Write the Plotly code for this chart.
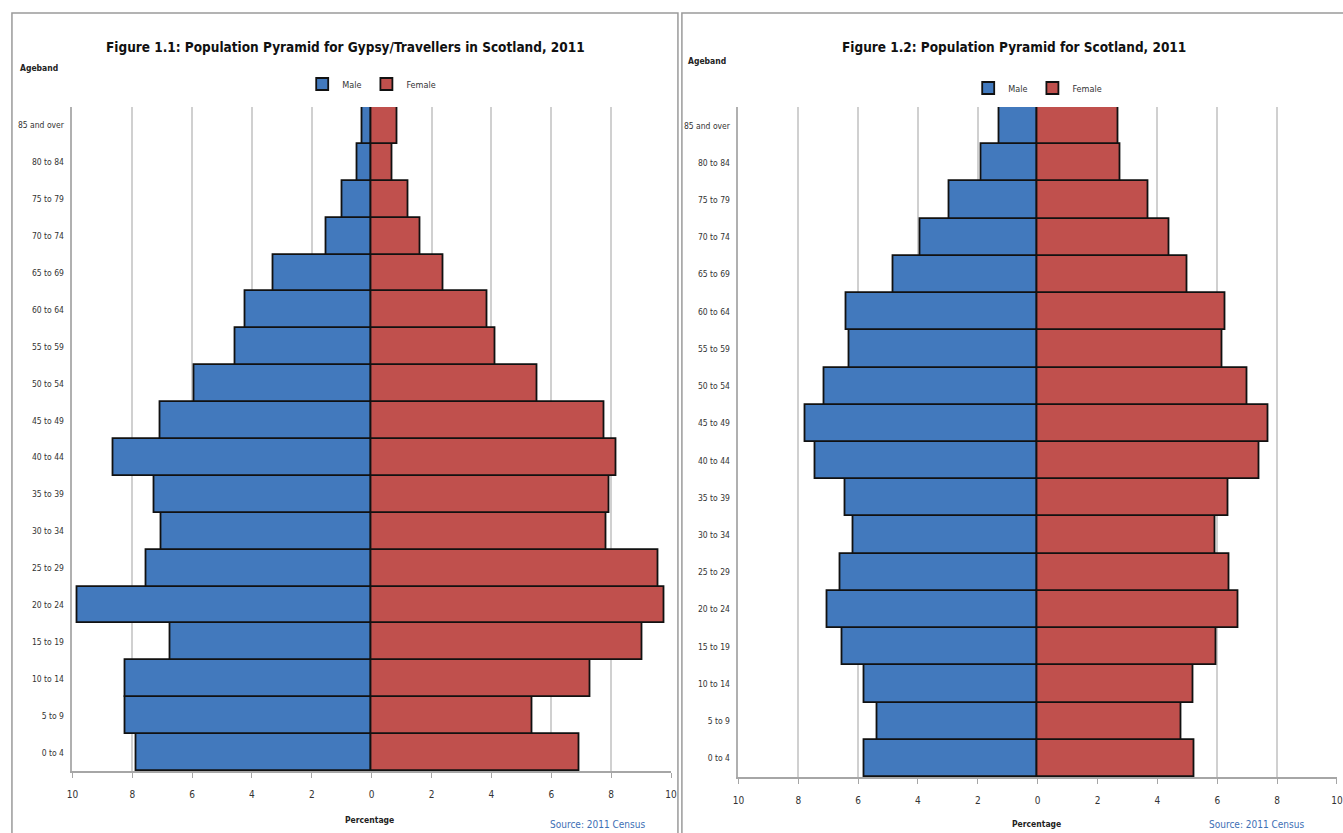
import plotly.graph_objects as go

W, H = 1343, 833

agebands = ["0 to 4", "5 to 9", "10 to 14", "15 to 19", "20 to 24", "25 to 29",
            "30 to 34", "35 to 39", "40 to 44", "45 to 49", "50 to 54", "55 to 59",
            "60 to 64", "65 to 69", "70 to 74", "75 to 79", "80 to 84", "85 and over"]

# Figure 1.1: Gypsy/Travellers in Scotland (percent)
gt_male = [7.87, 8.24, 8.24, 6.73, 9.83, 7.53, 7.01, 7.26, 8.62, 7.05,
           5.94, 4.54, 4.21, 3.28, 1.51, 0.99, 0.48, 0.32]
gt_female = [6.94, 5.36, 7.31, 9.06, 9.78, 9.58, 7.84, 7.94, 8.16, 7.76,
             5.54, 4.13, 3.86, 2.39, 1.63, 1.23, 0.69, 0.86]

# Figure 1.2: Scotland (percent)
sc_male = [5.79, 5.35, 5.79, 6.53, 7.03, 6.60, 6.16, 6.44, 7.42, 7.75,
           7.14, 6.29, 6.38, 4.82, 3.91, 2.96, 1.87, 1.27]
sc_female = [5.25, 4.81, 5.19, 5.96, 6.69, 6.42, 5.95, 6.36, 7.40, 7.70,
             7.01, 6.17, 6.27, 4.99, 4.39, 3.70, 2.77, 2.69]

tick_vals = [-10, -8, -6, -4, -2, 0, 2, 4, 6, 8, 10]
tick_text = ["10", "8", "6", "4", "2", "0", "2", "4", "6", "8", "10"]

MALE_C = "#4279bd"
FEMALE_C = "#c0504d"
FONT = "Liberation Sans Narrow, DejaVu Sans Condensed, Arial Narrow, sans-serif"


def fx(px):
    return px / W


def fy(py):
    return 1 - py / H


fig = go.Figure()

line = dict(color="#111111", width=1.8)
fig.add_trace(go.Bar(y=agebands, x=[-v for v in gt_male], orientation="h", name="Male",
                     marker=dict(color=MALE_C, line=line), xaxis="x", yaxis="y",
                     legend="legend"))
fig.add_trace(go.Bar(y=agebands, x=gt_female, orientation="h", name="Female",
                     marker=dict(color=FEMALE_C, line=line), xaxis="x", yaxis="y",
                     legend="legend"))
fig.add_trace(go.Bar(y=agebands, x=[-v for v in sc_male], orientation="h", name="Male",
                     marker=dict(color=MALE_C, line=line), xaxis="x2", yaxis="y2",
                     legend="legend2"))
fig.add_trace(go.Bar(y=agebands, x=sc_female, orientation="h", name="Female",
                     marker=dict(color=FEMALE_C, line=line), xaxis="x2", yaxis="y2",
                     legend="legend2"))

xcommon = dict(range=[-10, 10], tickvals=tick_vals, ticktext=tick_text,
               showgrid=True, gridcolor="#d0d0d0", gridwidth=1.5, zeroline=False,
               showline=True, linecolor="#a6a6a6", linewidth=1.5,
               ticks="outside", ticklen=5, tickcolor="#a6a6a6",
               tickfont=dict(family=FONT, size=10, color="#333333"),
               ticklabelstandoff=8, fixedrange=True)
ycommon = dict(type="category", categoryorder="array", categoryarray=agebands,
               showgrid=False, zeroline=False, showline=True, linecolor="#b0b0b0",
               linewidth=1.5, ticks="", tickfont=dict(family=FONT, size=8.5, color="#333333"),
               ticklabelstandoff=5, fixedrange=True)

fig.update_layout(
    width=W, height=H,
    margin=dict(l=0, r=0, t=0, b=0),
    paper_bgcolor="white", plot_bgcolor="white",
    barmode="relative", bargap=0.0,
    xaxis=dict(domain=[fx(67), fx(671)], anchor="y", **xcommon),
    yaxis=dict(domain=[fy(771), fy(107)], anchor="x", **ycommon),
    xaxis2=dict(domain=[fx(739), 1.0], anchor="y2", **xcommon),
    yaxis2=dict(domain=[fy(777), fy(107)], anchor="x2", **ycommon),
    legend=dict(orientation="h", x=fx(369), y=fy(84), xanchor="center", yanchor="middle",
                font=dict(family=FONT, size=9, color="#333333"), itemwidth=30,
                bgcolor="rgba(0,0,0,0)", traceorder="normal"),
    legend2=dict(orientation="h", x=fx(1041), y=fy(88), xanchor="center", yanchor="middle",
                 font=dict(family=FONT, size=9, color="#333333"), itemwidth=30,
                 bgcolor="rgba(0,0,0,0)", traceorder="normal"),
    showlegend=True,
)

shapes = [
    dict(type="rect", xref="paper", yref="paper", x0=fx(6), x1=fx(678), y0=-0.05, y1=fy(13),
         line=dict(color="#9a9a9a", width=1.5), fillcolor="rgba(0,0,0,0)", layer="below"),
    dict(type="rect", xref="paper", yref="paper", x0=fx(682), x1=1.05, y0=-0.05, y1=fy(13),
         line=dict(color="#9a9a9a", width=1.5), fillcolor="rgba(0,0,0,0)", layer="below"),
]
fig.update_layout(shapes=shapes)

ann = []
ann.append(dict(text="<b>Figure 1.1: Population Pyramid for Gypsy/Travellers in Scotland, 2011</b>",
                x=fx(343), y=fy(47), font=dict(family=FONT, size=13.5, color="#111111")))
ann.append(dict(text="<b>Figure 1.2: Population Pyramid for Scotland, 2011</b>",
                x=fx(1017), y=fy(47), font=dict(family=FONT, size=13.5, color="#111111")))
ann.append(dict(text="<b>Ageband</b>", x=fx(33), y=fy(68),
                font=dict(family=FONT, size=8.5, color="#222222")))
ann.append(dict(text="<b>Ageband</b>", x=fx(707), y=fy(61),
                font=dict(family=FONT, size=8.5, color="#222222")))
ann.append(dict(text="<b>Percentage</b>", x=fx(367), y=fy(820),
                font=dict(family=FONT, size=8.5, color="#222222")))
ann.append(dict(text="<b>Percentage</b>", x=fx(1040), y=fy(824),
                font=dict(family=FONT, size=8.5, color="#222222")))
ann.append(dict(text="Source: 2011 Census", x=fx(597), y=fy(824),
                font=dict(family=FONT, size=10, color="#3d6fb5")))
ann.append(dict(text="Source: 2011 Census", x=fx(1262), y=fy(824),
                font=dict(family=FONT, size=10, color="#3d6fb5")))
for a in ann:
    a.update(xref="paper", yref="paper", showarrow=False, xanchor="center", yanchor="middle")
fig.update_layout(annotations=ann)

fig.write_html("out.html", config={"displayModeBar": False},
               post_script="document.body.style.margin='0px';document.body.style.overflow='hidden';")
